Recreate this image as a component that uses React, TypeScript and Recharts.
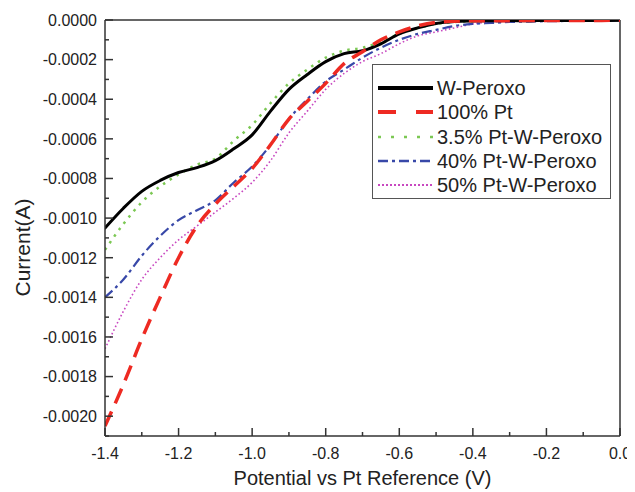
import React from 'react';
import { LineChart, Line, XAxis, YAxis, Legend, ReferenceLine } from 'recharts';

const potential = [
  -1.4, -1.35, -1.3, -1.25, -1.2, -1.15, -1.1, -1.05, -1.0, -0.95,
  -0.9, -0.85, -0.8, -0.75, -0.7, -0.65, -0.6, -0.55, -0.5, -0.45,
  -0.4, -0.35, -0.3, -0.25, -0.2, -0.15, -0.1, -0.05, 0.0,
];

const wPeroxo = [
  -0.00105, -0.00095, -0.000865, -0.00081, -0.00077, -0.000745, -0.00071, -0.00065, -0.00058, -0.00046,
  -0.00035, -0.000275, -0.00021, -0.00017, -0.000155, -0.00012, -0.00007, -0.00004, -0.000018, -0.000008,
  -0.000005, -0.000004, -0.000003, -0.000004, -0.000002, -0.000003, -0.000002, -0.000002, -0.000001,
];

const pt100 = [
  -0.00205, -0.00184, -0.00161, -0.0014, -0.0012, -0.00104, -0.00093, -0.00084, -0.00075, -0.00063,
  -0.0005, -0.00041, -0.00032, -0.00022, -0.00016, -0.0001, -0.00006, -0.00003, -0.000012, -0.000006,
  -0.000004, -0.000003, -0.000004, -0.000002, -0.000003, -0.000002, -0.000003, -0.000002, -0.000001,
];

const pt35 = [
  -0.00116, -0.00103, -0.00092, -0.00084, -0.00078, -0.00073, -0.0007, -0.00061, -0.00053, -0.00042,
  -0.00032, -0.00025, -0.00019, -0.000155, -0.00014, -0.00011, -0.00007, -0.00004, -0.00002, -0.00001,
  -0.000006, -0.000004, -0.000003, -0.000003, -0.000002, -0.000003, -0.000002, -0.000002, -0.000001,
];

const pt40 = [
  -0.0014, -0.00131, -0.00119, -0.00109, -0.00101, -0.00096, -0.00091, -0.00082, -0.00074, -0.00063,
  -0.0005, -0.0004, -0.00031, -0.00025, -0.00019, -0.00014, -0.0001, -0.00007, -0.00005, -0.00003,
  -0.00002, -0.000015, -0.00001, -0.000008, -0.000006, -0.000005, -0.000004, -0.000004, -0.000003,
];

const pt50 = [
  -0.00166, -0.00147, -0.00131, -0.0012, -0.00111, -0.00104, -0.00097, -0.0009, -0.00082, -0.00071,
  -0.00057, -0.00046, -0.00035, -0.00027, -0.00021, -0.00017, -0.00012, -0.00008, -0.00006, -0.00004,
  -0.00002, -0.00001, -0.000007, -0.000005, -0.000004, -0.000003, -0.000003, -0.000002, -0.000002,
];

const xTicks = [-1.4, -1.3, -1.2, -1.1, -1.0, -0.9, -0.8, -0.7, -0.6, -0.5, -0.4, -0.3, -0.2, -0.1, 0];
const yTicks = [
  0, -0.0001, -0.0002, -0.0003, -0.0004, -0.0005, -0.0006, -0.0007, -0.0008, -0.0009, -0.001,
  -0.0011, -0.0012, -0.0013, -0.0014, -0.0015, -0.0016, -0.0017, -0.0018, -0.0019, -0.002, -0.0021,
];

const seriesNames = ['W-Peroxo', '100% Pt', '3.5% Pt-W-Peroxo', '40% Pt-W-Peroxo', '50% Pt-W-Peroxo'];

const data = potential.map((v, i) => ({
  v,
  w: wPeroxo[i],
  p100: pt100[i],
  p35: pt35[i],
  p40: pt40[i],
  p50: pt50[i],
}));

const FONT = '"Liberation Sans", Arial, Helvetica, sans-serif';
const AXIS = '#333';
const TEXT = '#222';

const series = [
  { key: 'w', name: seriesNames[0], color: '#000000', width: 3, dash: undefined as string | undefined, lw: 4, ld: undefined as string | undefined, cap: 'round' },
  { key: 'p100', name: seriesNames[1], color: '#ee2a22', width: 3.5, dash: '16 9', lw: 4, ld: '18 20', cap: 'butt' },
  { key: 'p35', name: seriesNames[2], color: '#7cc854', width: 2.5, dash: '2.5 5.5', lw: 2.5, ld: '3 10', cap: 'butt' },
  { key: 'p40', name: seriesNames[3], color: '#3848a8', width: 2.2, dash: '10 4 3 4', lw: 2.5, ld: '10 4 3 4', cap: 'butt' },
  { key: 'p50', name: seriesNames[4], color: '#c848c0', width: 1.6, dash: '1.6 2.4', lw: 2, ld: '2 2', cap: 'butt' },
];

const drawOrder = ['p50', 'p40', 'p35', 'w', 'p100'];

const XTick = (props: any) => {
  const { x, y, payload } = props;
  const val = payload.value as number;
  const major = Math.round(val * 10) % 2 === 0;
  return (
    <g>
      <line x1={x} y1={y} x2={x} y2={y - (major ? 8 : 4)} stroke={AXIS} strokeWidth={1.5} />
      {major && (
        <text x={x} y={y + 23} textAnchor="middle" fontFamily={FONT} fontSize={16} fill={TEXT}>
          {val.toFixed(1)}
        </text>
      )}
    </g>
  );
};

const YTick = (props: any) => {
  const { x, y, payload } = props;
  const val = payload.value as number;
  const major = Math.round(val * 10000) % 2 === 0;
  return (
    <g>
      <line x1={x} y1={y} x2={x + (major ? 8 : 4)} y2={y} stroke={AXIS} strokeWidth={1.5} />
      {major && (
        <text x={x - 8} y={y + 5.8} textAnchor="end" fontFamily={FONT} fontSize={16} fill={TEXT}>
          {val.toFixed(4)}
        </text>
      )}
    </g>
  );
};

const YLabel = () => (
  <text
    x={21.5}
    y={239.5}
    transform="rotate(-90 21.5 239.5)"
    textAnchor="middle"
    fontFamily={FONT}
    fontSize={21}
    fill={TEXT}
  >
    Current(A)
  </text>
);

const XLabel = () => (
  <text x={354.5} y={477} textAnchor="middle" fontFamily={FONT} fontSize={20} fill={TEXT}>
    Potential vs Pt Reference (V)
  </text>
);

const renderLegend = () => (
  <div
    style={{
      boxSizing: 'border-box',
      width: 239,
      height: 135,
      border: '1.5px solid #555',
      background: '#fff',
      padding: '11px 0 0 5px',
      fontFamily: FONT,
      fontSize: 20,
      color: TEXT,
    }}
  >
    {series.map((s) => (
      <div key={s.key} style={{ display: 'flex', alignItems: 'center', height: 24.3 }}>
        <svg width={55} height={10} style={{ display: 'block', marginRight: 4 }}>
          <line x1={0} y1={5} x2={55} y2={5} stroke={s.color} strokeWidth={s.lw} strokeDasharray={s.ld} />
        </svg>
        <span style={{ lineHeight: '24px', whiteSpace: 'nowrap' }}>{s.name}</span>
      </div>
    ))}
  </div>
);

export default function App() {
  return (
    <div style={{ width: 627, height: 484, background: '#fff' }}>
      <LineChart width={627} height={484} data={data} margin={{ top: 12, right: 15, bottom: 8, left: 0 }}>
        <XAxis
          type="number"
          dataKey="v"
          domain={[-1.4, 0]}
          ticks={xTicks}
          interval={0}
          tick={XTick}
          tickLine={false}
          tickSize={0}
          tickMargin={0}
          height={48}
          axisLine={{ stroke: AXIS, strokeWidth: 1.5 }}
          allowDataOverflow
          label={XLabel}
        />
        <YAxis
          type="number"
          domain={[-0.0021, 0]}
          ticks={yTicks}
          interval={0}
          tick={YTick}
          tickLine={false}
          tickSize={0}
          tickMargin={0}
          width={97}
          axisLine={{ stroke: AXIS, strokeWidth: 1.5 }}
          allowDataOverflow
          label={YLabel}
        />
        <ReferenceLine y={0} stroke={AXIS} strokeWidth={1.5} />
        <ReferenceLine x={0} stroke={AXIS} strokeWidth={1.5} />
        {drawOrder.map((k) => {
          const s = series.find((q) => q.key === k)!;
          return (
            <Line
              key={s.key}
              type="monotone"
              dataKey={s.key}
              name={s.name}
              stroke={s.color}
              strokeWidth={s.width}
              strokeDasharray={s.dash}
              strokeLinecap={s.cap as any}
              dot={false}
              activeDot={false}
              isAnimationActive={false}
            />
          );
        })}
        <Legend
          layout="vertical"
          align="center"
          verticalAlign="middle"
          content={renderLegend}
          wrapperStyle={{ left: 364, top: 56, width: 239, height: 135 }}
        />
      </LineChart>
    </div>
  );
}
